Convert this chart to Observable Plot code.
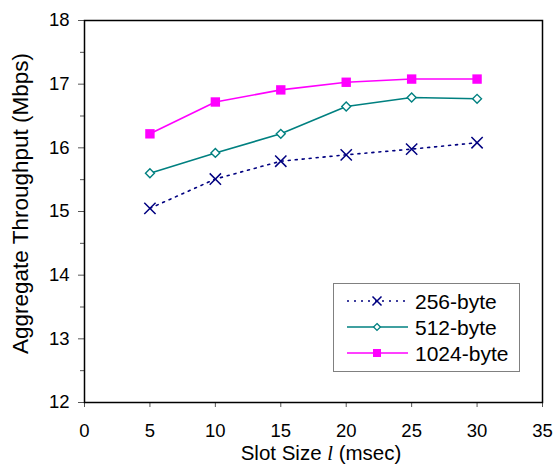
<!DOCTYPE html>
<html><head><meta charset="utf-8">
<script src="https://cdn.jsdelivr.net/npm/d3@7"></script>
<script src="https://cdn.jsdelivr.net/npm/@observablehq/plot@0.6"></script>
<style>
html,body{margin:0;padding:0;background:#fff;}
#chart{position:relative;width:554px;height:474px;}
</style>
</head><body><div id="chart"></div>
<script>
const slotSizes = [5, 10, 15, 20, 25, 30];
const t256 = [15.05, 15.51, 15.79, 15.89, 15.98, 16.08];
const t512 = [15.60, 15.92, 16.22, 16.65, 16.79, 16.77];
const t1024 = [16.22, 16.72, 16.91, 17.03, 17.08, 17.08];
const seriesNames = ["256-byte", "512-byte", "1024-byte"];
const xTicks = [0, 5, 10, 15, 20, 25, 30, 35];
const yTicks = [12, 13, 14, 15, 16, 17, 18];
const yMinor = [12.5, 13.5, 14.5, 15.5, 16.5, 17.5];
const xLabelParts = ["Slot Size ", "l", " (msec)"];
const yLabel = "Aggregate Throughput (Mbps)";

const colors = ["#000080", "#008080", "#FF00FF"];
const rows = (vals, name) => slotSizes.map((x, i) => ({x, y: vals[i], s: name}));
const d256 = rows(t256, seriesNames[0]);
const d512 = rows(t512, seriesNames[1]);
const d1024 = rows(t1024, seriesNames[2]);

const FONT = "'Liberation Sans', Arial, sans-serif";
const W = 554, H = 474;
const plot = Plot.plot({
  width: W, height: H,
  marginLeft: 84, marginRight: 12, marginTop: 20, marginBottom: 72,
  style: {fontFamily: FONT, fontSize: "18.5px", color: "#000", background: "#fff"},
  x: {domain: [0, 35]},
  y: {domain: [12, 18]},
  marks: [
    Plot.axisX({ticks: xTicks, tickSize: 5, tickPadding: 16, tickFormat: "d", label: null, fontSize: 18.5, stroke: "#555"}),
    Plot.axisY({ticks: yTicks, tickSize: 6, tickPadding: 9, tickFormat: "d", label: null, fontSize: 18.5, stroke: "#555"}),
    Plot.axisY({ticks: yMinor, tickSize: 4, text: null, label: null, stroke: "#555"}),
    Plot.line(d256, {x: "x", y: "y", stroke: colors[0], strokeWidth: 1.6, strokeDasharray: "2,5"}),
    Plot.line(d512, {x: "x", y: "y", stroke: colors[1], strokeWidth: 1.6}),
    Plot.line(d1024, {x: "x", y: "y", stroke: colors[2], strokeWidth: 1.6}),
    Plot.dot(d256, {x: "x", y: "y", symbol: "times", r: 5.2, stroke: colors[0], strokeWidth: 1.5}),
    Plot.dot(d512, {x: "x", y: "y", symbol: "diamond2", r: 4.0, stroke: colors[1], fill: "#fff", strokeWidth: 1.4}),
    Plot.dot(d1024, {x: "x", y: "y", symbol: "square", r: 5.3, fill: colors[2], stroke: "none"}),
    Plot.frame({stroke: "#000", strokeWidth: 1.5})
  ]
});
document.getElementById("chart").appendChild(plot);

const svg = d3.select(plot);
// axis titles
const xl = svg.append("text").attr("x", 321).attr("y", 460).attr("text-anchor", "middle")
  .attr("font-family", FONT).attr("font-size", 20.5).attr("fill", "#000");
xl.append("tspan").text(xLabelParts[0]);
xl.append("tspan").attr("font-style", "italic").attr("font-family", "'Liberation Serif', serif").text(xLabelParts[1]);
xl.append("tspan").text(xLabelParts[2]);
svg.append("text").attr("transform", "translate(28,203.5) rotate(-90)").attr("text-anchor", "middle")
  .attr("font-family", FONT).attr("font-size", 22.5).attr("fill", "#000").text(yLabel);

// legend
const lg = svg.append("g").attr("transform", "translate(333,283)");
lg.append("rect").attr("x", 0.5).attr("y", 0.5).attr("width", 186).attr("height", 88)
  .attr("fill", "#fff").attr("stroke", "#808080").attr("stroke-width", 1);
seriesNames.forEach((name, i) => {
  const y = 18 + i * 26;
  lg.append("line").attr("x1", 14).attr("x2", 75).attr("y1", y).attr("y2", y)
    .attr("stroke", colors[i]).attr("stroke-width", 1.6)
    .attr("stroke-dasharray", i === 0 ? "2,5" : null);
  const p = lg.append("path").attr("transform", `translate(44,${y})`);
  if (i === 0) p.attr("d", d3.symbol(d3.symbolTimes, 55)()).attr("stroke", colors[0]).attr("fill", "none").attr("stroke-width", 1.5);
  if (i === 1) p.attr("d", d3.symbol(d3.symbolDiamond2, 30)()).attr("stroke", colors[1]).attr("fill", "#fff").attr("stroke-width", 1.3);
  if (i === 2) p.attr("d", d3.symbol(d3.symbolSquare, 64)()).attr("fill", colors[2]);
  lg.append("text").attr("x", 82).attr("y", y).attr("dy", "0.36em").attr("text-anchor", "start")
    .attr("font-family", FONT).attr("font-size", 21).attr("fill", "#000").text(name);
});
</script>
</body></html>
